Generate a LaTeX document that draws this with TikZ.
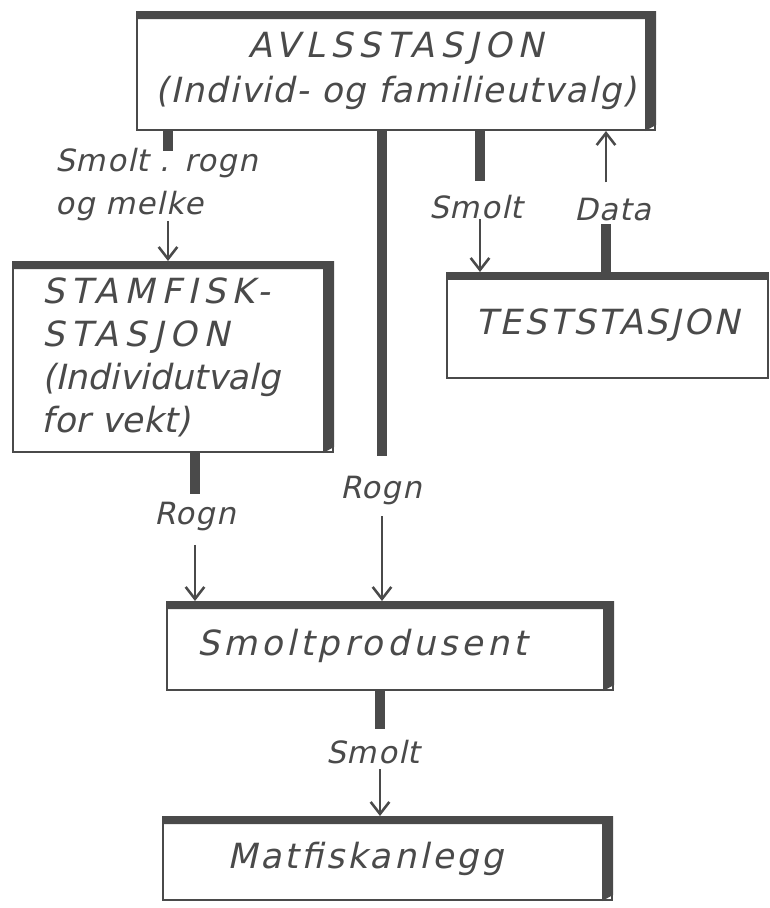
\documentclass[tikz,border=0pt]{standalone}
\usepackage{fontspec}
\setmainfont{DejaVu Sans}[FakeSlant=0.22]
\usetikzlibrary{arrows.meta,calc}
\definecolor{ink}{HTML}{4A4A4A}
\newcommand\band[1]{\fill[ink] (#1.north west) -- (#1.north east) -- ($(#1.south east)+(0,-6)$) -- ($(#1.south east)+(-11,0)$) -- ($(#1.north east)+(-11,8)$) -- ($(#1.north west)+(0,8)$) -- cycle;}
\newcommand\topband[1]{\fill[ink] (#1.north west) -- (#1.north east) -- ($(#1.north east)+(0,8)$) -- ($(#1.north west)+(0,8)$) -- cycle;}
\begin{document}
\begin{tikzpicture}[x=0.75pt,y=-0.75pt,
  box/.style={draw=ink, line width=1.5pt, rectangle, inner sep=0pt, text=ink},
  big/.style={font=\fontsize{26}{32.25}\selectfont},
  lab/.style={inner sep=0pt, text=ink, font=\fontsize{23}{32}\selectfont\addfontfeature{LetterSpace=4}},
  stub/.style={draw=ink, line width=8pt},
  arr/.style={draw=ink, line width=1.9pt, -{Straight Barb[length=9pt,width=14pt]}}]
\fill[white] (0,0) rectangle (770,908);
\useasboundingbox (0,0) rectangle (770,908);

% boxes
\node[box, minimum width=388.5pt, minimum height=88.5pt, align=center,
      font=\fontsize{26}{34}\selectfont] (avl) at (396,71)
  {{\addfontfeature{LetterSpace=17}AVLSSTASJON}\\{\addfontfeature{LetterSpace=4}(Individ- og familieutvalg)}};
\node[box, big, minimum width=240pt, minimum height=142.5pt, text width=196.5pt,
      inner xsep=21.75pt, align=left] (stam) at (173,357)
  {{\addfontfeature{LetterSpace=18}STAMFISK-}\\{\addfontfeature{LetterSpace=18}STASJON}\\(Individutvalg\\for vekt)};
\node[box, big, minimum width=240.75pt, minimum height=78.75pt] (test) at (607.5,325.5)
  {\addfontfeature{LetterSpace=8}TESTSTASJON};
\node[box, big, minimum width=334.5pt, minimum height=66pt, text width=289.5pt,
      inner xsep=22.5pt, align=left] (smp) at (390,646)
  {\addfontfeature{LetterSpace=12}Smoltprodusent};
\node[box, big, minimum width=336.75pt, minimum height=62.25pt, text width=240.75pt,
      inner xsep=48pt, align=left] (mat) at (387.5,858.5)
  {\addfontfeature{LetterSpace=9}Matfiskanlegg};
\band{avl}
\band{stam}
\topband{test}
\band{smp}
\band{mat}

% labels
\node[lab, anchor=north west, align=left] (smr) at (55,148) {Smolt . rogn\\og melke};
\node[lab] (rl) at (195,517) {Rogn};
\node[lab] (rm) at (381,491) {Rogn};
\node[lab] (sb) at (373,752) {Smolt};
\node[lab] (sr) at (476,207) {Smolt};
\node[lab] (dt) at (613,210) {Data};

% connector x positions
\coordinate (x1) at (168,0);
\coordinate (x2) at (382,0);
\coordinate (x3) at (480,0);
\coordinate (x4) at (606,0);
\coordinate (x5) at (195,0);
\coordinate (x6) at (380,0);

% connectors
\draw[stub] (avl.south -| x1) -- ++(0,20);
\draw[arr] (smr.south -| x1) -- (stam.north -| x1);
\draw[stub, line width=7.5pt] (avl.south -| x2) -- ($(rm.north -| x2)+(0,-20)$);
\draw[arr, shorten <=8pt] (rm.south -| x2) -- (smp.north -| x2);
\draw[stub] (avl.south -| x3) -- ++(0,50);
\draw[arr] (sr.south -| x3) -- (test.north -| x3);
\draw[stub] (test.north -| x4) -- ++(0,-48);
\draw[arr, shorten <=12pt] (dt.north -| x4) -- (avl.south -| x4);
\draw[stub] (stam.south -| x5) -- ++(0,41);
\draw[arr, shorten <=10pt] (rl.south -| x5) -- (smp.north -| x5);
\draw[stub] (smp.south -| x6) -- ++(0,38);
\draw[arr, shorten <=4pt] (sb.south -| x6) -- (mat.north -| x6);
\end{tikzpicture}
\end{document}
